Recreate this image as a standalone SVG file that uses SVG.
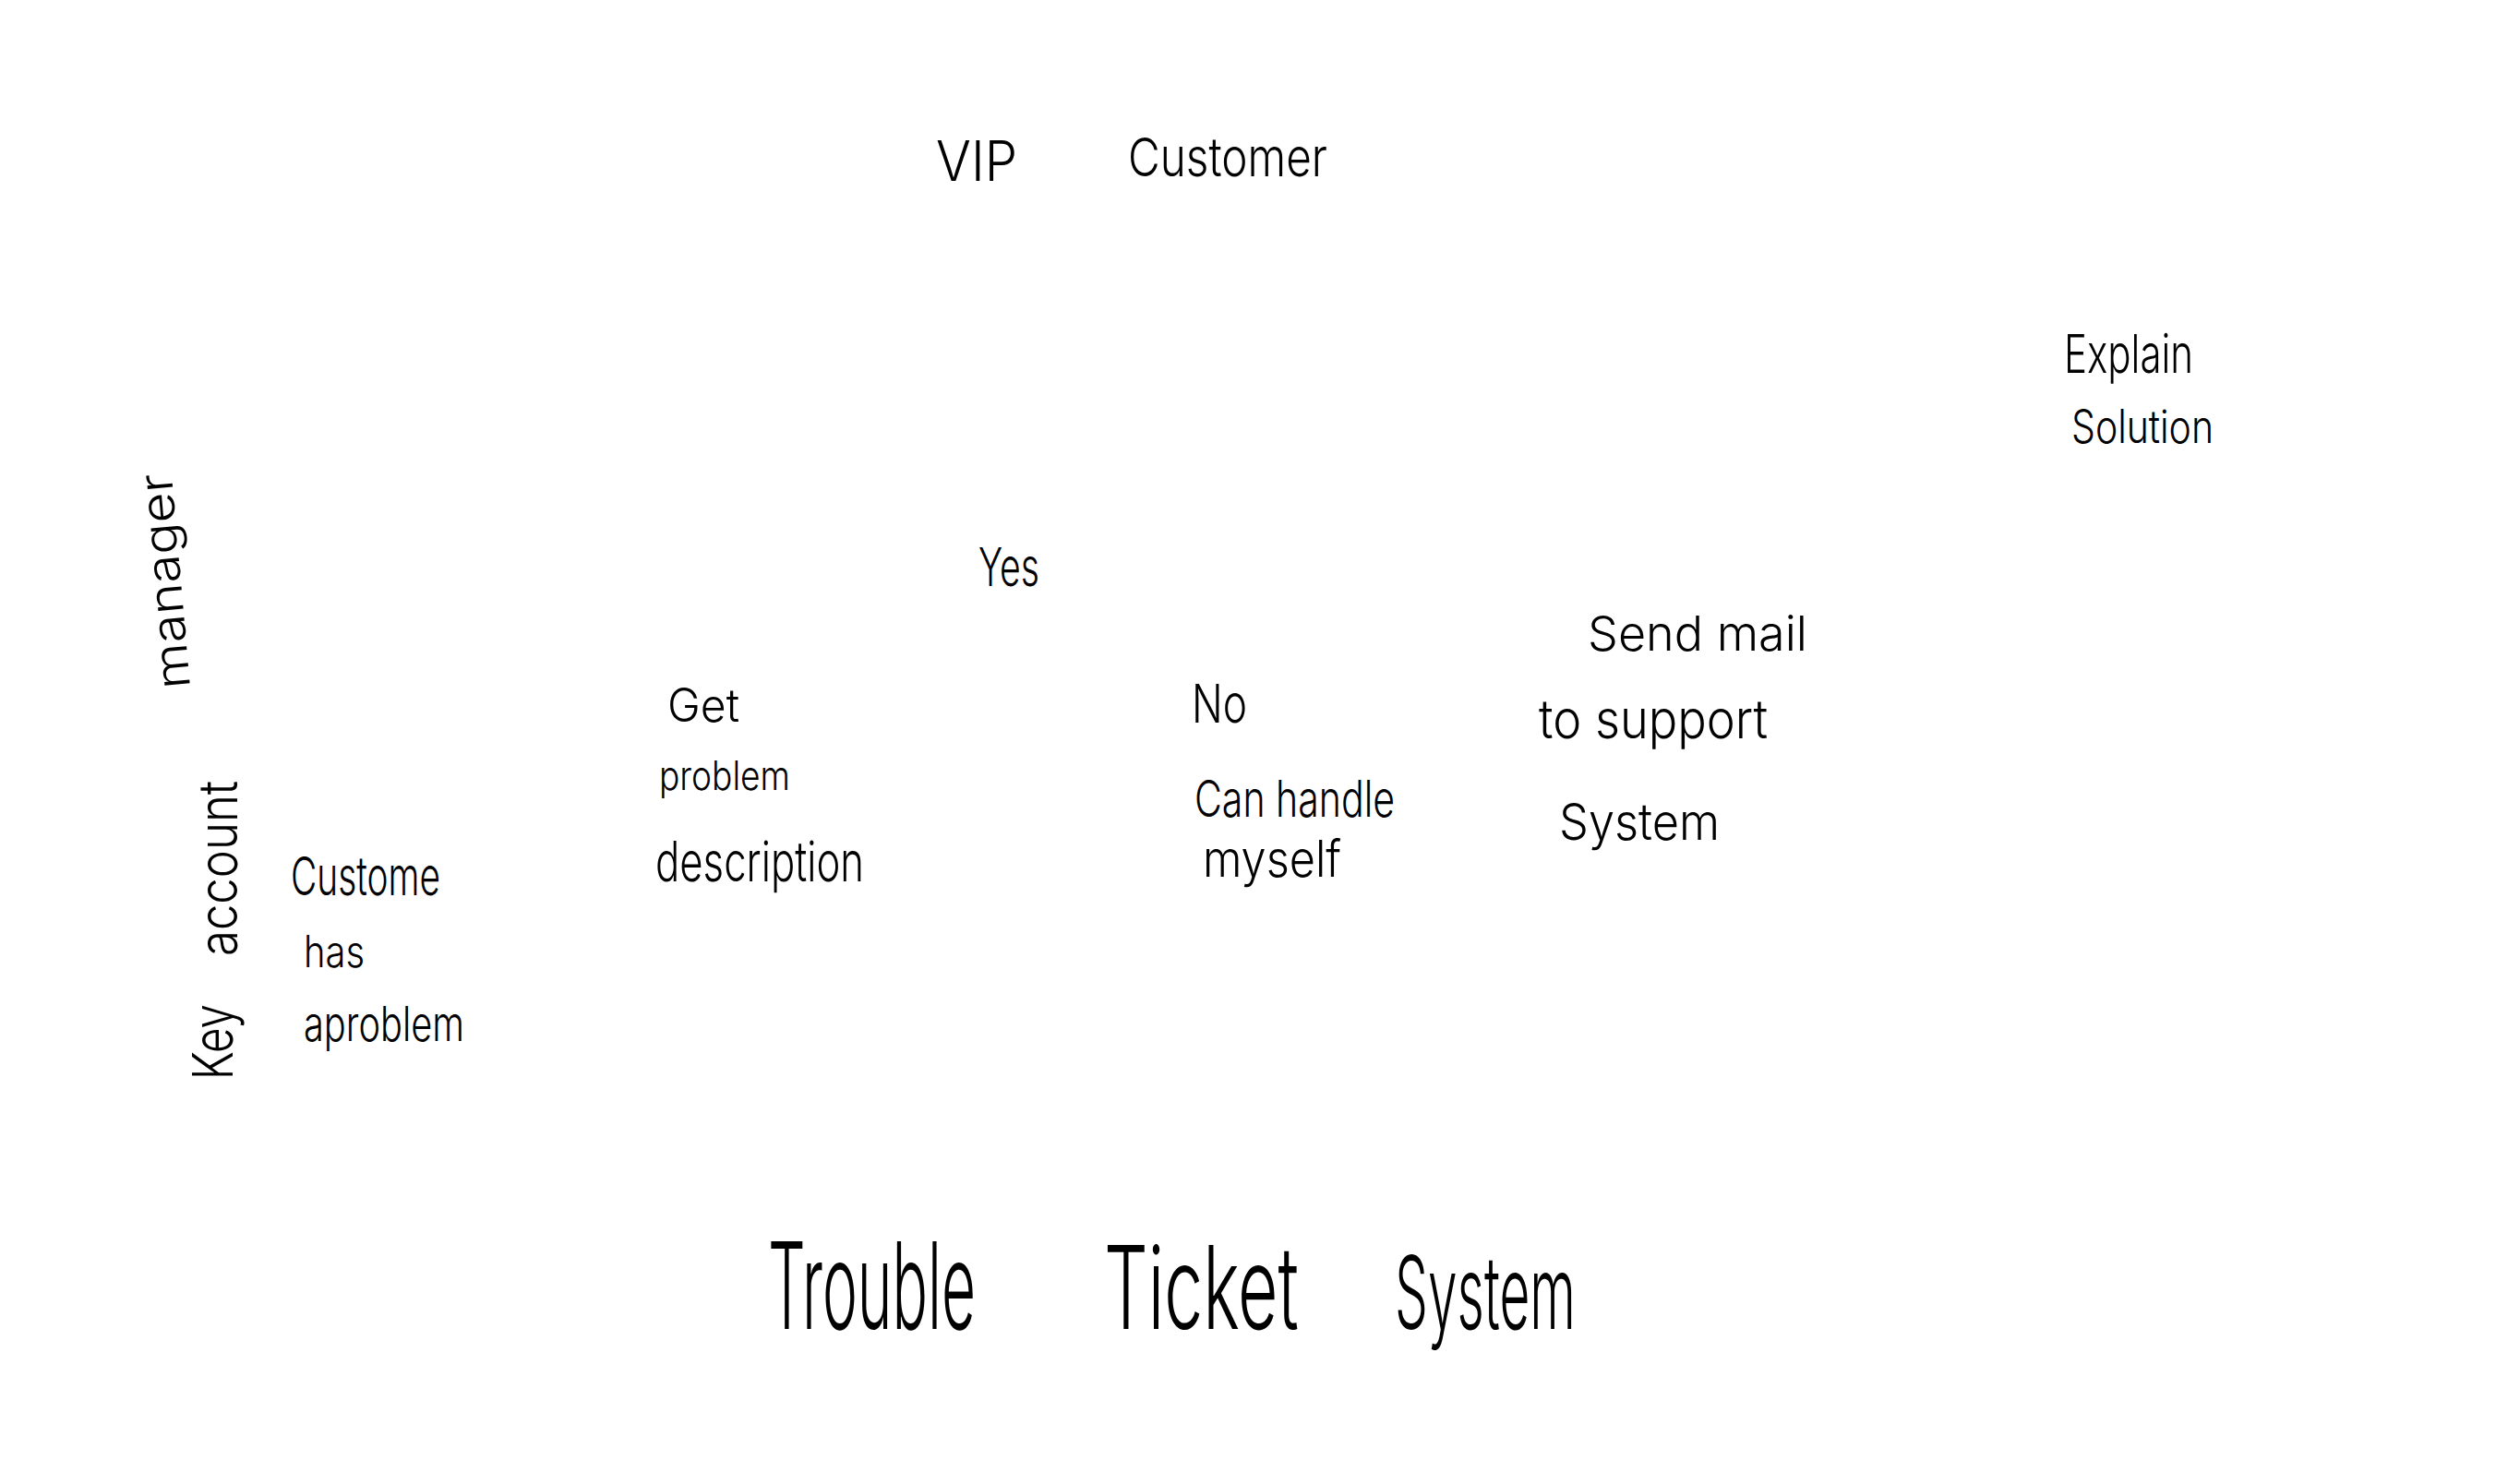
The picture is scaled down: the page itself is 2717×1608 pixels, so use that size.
<svg xmlns="http://www.w3.org/2000/svg" width="2717" height="1608" viewBox="0 0 2717 1608">
<style>
text{font-family:"Inter","Liberation Sans",sans-serif;font-weight:300;fill:#000}
</style>
<rect width="2717" height="1608" fill="#fff"/>
<g id="vip-customer">
<text x="1014" y="196" font-size="60" textLength="88" lengthAdjust="spacingAndGlyphs">VIP</text>
<text x="1222" y="191" font-size="58" textLength="216" lengthAdjust="spacingAndGlyphs">Customer</text>
</g>
<g id="explain-solution">
<text x="2236" y="404" font-size="58" textLength="140" lengthAdjust="spacingAndGlyphs">Explain</text>
<text x="2244" y="480" font-size="50" textLength="154" lengthAdjust="spacingAndGlyphs">Solution</text>
</g>
<g id="yes">
<text x="1060" y="635" font-size="58" textLength="66" lengthAdjust="spacingAndGlyphs">Yes</text>
</g>
<g id="send-mail">
<text x="1720" y="705" font-size="52" textLength="238" lengthAdjust="spacingAndGlyphs">Send mail</text>
<text x="1667" y="800" font-size="58" textLength="248" lengthAdjust="spacingAndGlyphs">to support</text>
<text x="1689" y="910" font-size="55" textLength="174" lengthAdjust="spacingAndGlyphs">System</text>
</g>
<g id="no">
<text x="1291" y="783" font-size="58" textLength="60" lengthAdjust="spacingAndGlyphs">No</text>
</g>
<g id="can-handle">
<text x="1294" y="885" font-size="55" textLength="217" lengthAdjust="spacingAndGlyphs">Can handle</text>
<text x="1303" y="950" font-size="55" textLength="150" lengthAdjust="spacingAndGlyphs">myself</text>
</g>
<g id="get-problem">
<text x="723" y="782" font-size="50" textLength="78" lengthAdjust="spacingAndGlyphs">Get</text>
<text x="714" y="856" font-size="44" textLength="142" lengthAdjust="spacingAndGlyphs">problem</text>
<text x="710" y="955" font-size="60" textLength="226" lengthAdjust="spacingAndGlyphs">description</text>
</g>
<g id="customer-problem">
<text x="315" y="970" font-size="58" textLength="162" lengthAdjust="spacingAndGlyphs">Custome</text>
<text x="329" y="1048" font-size="48" textLength="66" lengthAdjust="spacingAndGlyphs">has</text>
<text x="329" y="1128" font-size="52" textLength="174" lengthAdjust="spacingAndGlyphs">aproblem</text>
</g>
<g id="key-account-manager">
<text transform="translate(252 1170) rotate(-90)" font-size="60" textLength="82" lengthAdjust="spacingAndGlyphs">Key</text>
<text transform="translate(257 1036) rotate(-90)" font-size="58" textLength="190" lengthAdjust="spacingAndGlyphs">account</text>
<text transform="translate(206 745) rotate(-95)" font-size="50" textLength="234" lengthAdjust="spacingAndGlyphs">manager</text>
</g>
<g id="title">
<text x="832" y="1440" font-size="130" textLength="225" lengthAdjust="spacingAndGlyphs">Trouble</text>
<text x="1196" y="1440" font-size="125" textLength="211" lengthAdjust="spacingAndGlyphs">Ticket</text>
<text x="1511" y="1440" font-size="110" textLength="196" lengthAdjust="spacingAndGlyphs">System</text>
</g>
</svg>
